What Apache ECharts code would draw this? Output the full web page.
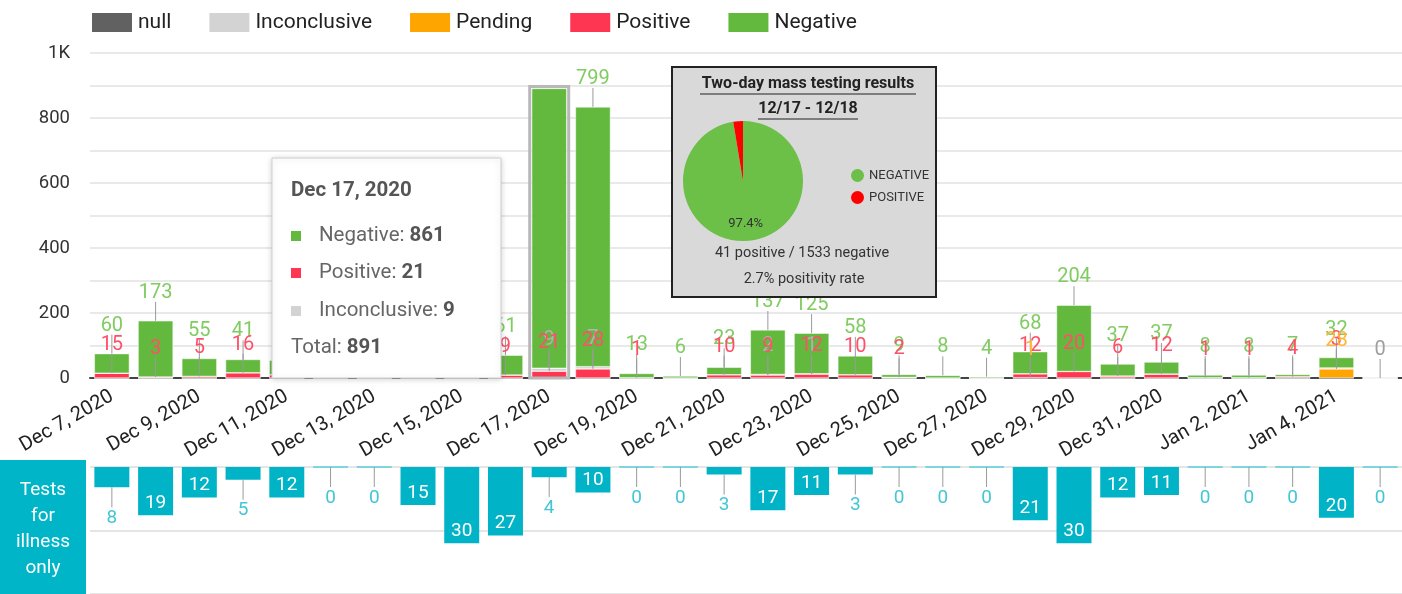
<!DOCTYPE html>
<html>
<head>
<meta charset="utf-8">
<script src="https://cdn.jsdelivr.net/npm/echarts@6/dist/echarts.min.js"></script>
<style>
  html, body { margin: 0; padding: 0; background: #fff; }
  #main { width: 1402px; height: 594px; }
</style>
</head>
<body>
<div id="main"></div>
<script>
// days on the x axis
const days = [
  'Dec 7, 2020', 'Dec 8, 2020', 'Dec 9, 2020', 'Dec 10, 2020', 'Dec 11, 2020',
  'Dec 12, 2020', 'Dec 13, 2020', 'Dec 14, 2020', 'Dec 15, 2020', 'Dec 16, 2020',
  'Dec 17, 2020', 'Dec 18, 2020', 'Dec 19, 2020', 'Dec 20, 2020', 'Dec 21, 2020',
  'Dec 22, 2020', 'Dec 23, 2020', 'Dec 24, 2020', 'Dec 25, 2020', 'Dec 26, 2020',
  'Dec 27, 2020', 'Dec 28, 2020', 'Dec 29, 2020', 'Dec 30, 2020', 'Dec 31, 2020',
  'Jan 1, 2021', 'Jan 2, 2021', 'Jan 3, 2021', 'Jan 4, 2021', 'Jan 5, 2021'
]
// stacked results (Dec 11 - Dec 15 are under the tooltip, estimated)
const negative = [60, 173, 55, 41, 45, 4, 2, 38, 52, 61, 861, 799, 13, 6, 23, 137, 125, 58, 9, 8, 4, 68, 204, 37, 37, 8, 8, 7, 32, 0]
const positive = [15, 3, 5, 16, 10, 2, 1, 8, 12, 9, 21, 28, 1, 0, 10, 9, 12, 10, 2, 0, 0, 12, 20, 6, 12, 1, 1, 4, 3, 0]
const inconclusive = [0, 0, 0, 0, 0, 0, 0, 0, 0, 0, 9, 7, 0, 0, 0, 2, 1, 0, 0, 0, 0, 0, 0, 0, 0, 0, 0, 0, 0, 0]
const pending = [0, 0, 0, 0, 0, 0, 0, 0, 0, 0, 0, 0, 0, 0, 0, 0, 0, 0, 0, 0, 0, 1, 0, 0, 0, 0, 0, 0, 28, 0]
const nullVals = [0, 0, 0, 0, 0, 0, 0, 0, 0, 0, 0, 0, 0, 0, 0, 0, 0, 0, 0, 0, 0, 0, 0, 0, 0, 0, 0, 0, 0, 0]
// tests for illness only
const illness = [8, 19, 12, 5, 12, 0, 0, 15, 30, 27, 4, 10, 0, 0, 3, 17, 11, 3, 0, 0, 0, 21, 30, 12, 11, 0, 0, 0, 20, 0]
// inset pie
const pieNames = ['NEGATIVE', 'POSITIVE']
const pieValues = [1533, 41]

const hoverIdx = 10 // Dec 17 is the hovered bar
const font = 'Roboto, "Noto Sans", sans-serif'

const colors = {
  null: '#616161',
  inconclusive: '#d3d3d3',
  pending: '#ffa500',
  positive: '#ff3652',
  negative: '#62b93e',
  illness: '#00b3c6'
}

// annotations above each stacked segment, with the little stems
function topAnnot (params, api) {
  const i = params.dataIndex
  const x = api.coord([i, 0])[0]
  const segs = [
    { v: pending[i], c: '#ffb433' },
    { v: positive[i], c: '#ff5069' },
    { v: inconclusive[i], c: '#b3b3b3' },
    { v: negative[i], c: '#80cc62' }
  ]
  let cum = 0
  segs.forEach(s => {
    cum += s.v
    s.y = api.coord([i, cum])[1]
  })
  const kids = []
  if (i === hoverIdx) {
    const w = api.size([1, 0])[0] * 0.8
    const base = api.coord([i, 0])[1]
    kids.push({
      type: 'rect',
      shape: { x: x - w / 2 - 2, y: segs[3].y - 2, width: w + 4, height: base - segs[3].y + 2 },
      style: { fill: null, stroke: '#b8b8b8', lineWidth: 3 }
    })
  }
  const show = [
    pending[i] > 0,
    positive[i] > 0,
    inconclusive[i] > 0,
    i !== hoverIdx
  ]
  segs.forEach((s, k) => {
    if (!show[k]) return
    kids.push({
      type: 'line',
      shape: { x1: x, y1: s.y, x2: x, y2: s.y - 19 },
      style: { stroke: '#9a9a9a', lineWidth: 1 }
    })
  })
  const order = [3, 2, 1, 0]
  order.forEach(k => {
    if (!show[k]) return
    const s = segs[k]
    let col = s.c
    if (k === 3 && s.v === 0) col = '#9e9e9e'
    kids.push({
      type: 'text',
      x: x,
      y: s.y - 28,
      style: {
        text: String(s.v),
        fill: col,
        fontSize: 20,
        fontFamily: font,
        align: 'center',
        verticalAlign: 'middle'
      }
    })
  })
  return { type: 'group', children: kids }
}

// labels for the downward cyan bars
function bottomAnnot (params, api) {
  const i = params.dataIndex
  const v = illness[i]
  const p0 = api.coord([i, 0])
  const p1 = api.coord([i, v])
  const w = api.size([1, 0])[0] * 0.8
  const kids = []
  if (v === 0) {
    kids.push({
      type: 'rect',
      shape: { x: p0[0] - w / 2, y: p0[1] - 1, width: w, height: 2 },
      style: { fill: '#7fd5df' }
    })
  }
  if (v >= 10) {
    kids.push({
      type: 'text',
      x: p0[0],
      y: p1[1] - 12,
      style: { text: String(v), fill: '#fff', fontSize: 19, fontFamily: font, align: 'center', verticalAlign: 'middle' }
    })
  } else {
    kids.push({
      type: 'line',
      shape: { x1: p0[0], y1: p1[1], x2: p0[0], y2: p1[1] + 20 },
      style: { stroke: '#9a9a9a', lineWidth: 1 }
    })
    kids.push({
      type: 'text',
      x: p0[0],
      y: p1[1] + 31,
      style: { text: String(v), fill: '#45c6d6', fontSize: 19, fontFamily: font, align: 'center', verticalAlign: 'middle' }
    })
  }
  return { type: 'group', children: kids }
}

const chart = echarts.init(document.getElementById('main'))

function stackBar (name, data, color) {
  return {
    name: name,
    type: 'bar',
    stack: 'res',
    data: data,
    barWidth: '80%',
    xAxisIndex: 0,
    yAxisIndex: 0,
    itemStyle: { color: color, borderColor: '#fff', borderWidth: 0.5 },
    emphasis: { disabled: true }
  }
}

// put a graphic element on its own layer
function layer (el, zl, z) {
  el.zlevel = zl
  el.z = z
  return el
}

// tooltip box drawn as plain graphics (Dec 17)
const tipItems = [
  { label: 'Negative: ', value: negative[hoverIdx], color: colors.negative, y: 236 },
  { label: 'Positive: ', value: positive[hoverIdx], color: colors.positive, y: 273 },
  { label: 'Inconclusive: ', value: inconclusive[hoverIdx], color: colors.inconclusive, y: 311 }
]
const total = negative[hoverIdx] + positive[hoverIdx] + inconclusive[hoverIdx]
const richTip = {
  a: { fill: '#666', fontSize: 20.5, fontFamily: font },
  b: { fill: '#555', fontSize: 20.5, fontWeight: 'bold', fontFamily: font }
}
const tipChildren = [
  {
    type: 'rect',
    shape: { x: 272, y: 158, width: 229, height: 220 },
    style: { fill: '#fff', stroke: '#cfcfcf', lineWidth: 1, shadowBlur: 6, shadowColor: 'rgba(0,0,0,0.18)', shadowOffsetY: 1 }
  },
  {
    type: 'text',
    x: 291, y: 191,
    style: { text: 'Dec 17, 2020', fill: '#555', fontSize: 20.5, fontWeight: 'bold', fontFamily: font, verticalAlign: 'middle' }
  },
  {
    type: 'text',
    x: 291, y: 348,
    style: { text: '{a|Total: }{b|' + total + '}', verticalAlign: 'middle', rich: richTip }
  }
]
tipItems.forEach(t => {
  tipChildren.push({
    type: 'rect',
    shape: { x: 291, y: t.y - 5, width: 10, height: 10 },
    style: { fill: t.color }
  })
  tipChildren.push({
    type: 'text',
    x: 319, y: t.y,
    style: { text: '{a|' + t.label + '}{b|' + t.value + '}', verticalAlign: 'middle', rich: richTip }
  })
})

const insetChildren = [
  {
    type: 'rect',
    shape: { x: 672, y: 67, width: 264, height: 230 },
    style: { fill: '#d9d9d9', stroke: '#222', lineWidth: 2 }
  },
  {
    type: 'text',
    x: 808, y: 84,
    style: { text: 'Two-day mass testing results', fill: '#222', fontSize: 16, fontWeight: 'bold', fontFamily: font, align: 'center', verticalAlign: 'middle' }
  },
  { type: 'line', shape: { x1: 700, y1: 94, x2: 916, y2: 94 }, style: { stroke: '#222', lineWidth: 1 } },
  {
    type: 'text',
    x: 808, y: 109,
    style: { text: '12/17 - 12/18', fill: '#222', fontSize: 16, fontWeight: 'bold', fontFamily: font, align: 'center', verticalAlign: 'middle' }
  },
  { type: 'line', shape: { x1: 758, y1: 119, x2: 858, y2: 119 }, style: { stroke: '#222', lineWidth: 1 } },
  {
    type: 'text',
    x: 802, y: 253,
    style: { text: '41 positive / 1533 negative', fill: '#333', fontSize: 14.5, fontFamily: font, align: 'center', verticalAlign: 'middle' }
  },
  {
    type: 'text',
    x: 804, y: 279,
    style: { text: '2.7% positivity rate', fill: '#333', fontSize: 14.5, fontFamily: font, align: 'center', verticalAlign: 'middle' }
  }
]

const sideChildren = [
  {
    type: 'rect',
    shape: { x: 0, y: 460, width: 86, height: 134 },
    style: { fill: '#00b5c8' }
  },
  {
    type: 'text',
    x: 43, y: 529,
    style: {
      text: 'Tests\nfor\nillness\nonly',
      fill: '#fff',
      fontSize: 19,
      lineHeight: 26,
      fontFamily: font,
      align: 'center',
      verticalAlign: 'middle'
    }
  }
]

const option = {
  animation: false,
  textStyle: { fontFamily: font },
  legend: [
    {
      data: ['null', 'Inconclusive', 'Pending', 'Positive', 'Negative'],
      left: 85,
      top: 6,
      icon: 'rect',
      itemWidth: 42,
      itemHeight: 21,
      itemGap: 36,
      textStyle: { fontSize: 21, color: '#222' }
    },
    {
      data: pieNames,
      orient: 'vertical',
      left: 846,
      top: 164,
      icon: 'circle',
      itemWidth: 13,
      itemHeight: 13,
      itemGap: 9,
      textStyle: { fontSize: 13, color: '#333' },
      zlevel: 1,
      z: 20
    }
  ],
  grid: [
    { left: 90, right: -2, top: 53, bottom: 216 },
    { left: 90, right: -2, top: 467, bottom: 0 }
  ],
  xAxis: [
    {
      type: 'category',
      gridIndex: 0,
      data: days,
      axisTick: { show: false },
      axisLine: { lineStyle: { color: '#444', width: 2 } },
      axisLabel: { interval: 1, rotate: 30, fontSize: 20, color: '#222', margin: 17 }
    },
    {
      type: 'category',
      gridIndex: 1,
      data: days,
      axisTick: { show: false },
      axisLine: { show: false },
      axisLabel: { show: false }
    }
  ],
  yAxis: [
    {
      type: 'value',
      gridIndex: 0,
      min: 0,
      max: 1000,
      interval: 100,
      axisLabel: {
        fontSize: 18.5,
        color: '#333',
        margin: 20,
        formatter: v => (v % 200 !== 0 ? '' : (v === 1000 ? '1K' : String(v)))
      },
      splitLine: { lineStyle: { color: '#e2e2e2', width: 1.5 } }
    },
    {
      type: 'value',
      gridIndex: 1,
      inverse: true,
      min: 0,
      max: 50,
      interval: 25,
      axisLabel: { show: false },
      splitLine: { lineStyle: { color: '#dcdcdc', width: 1.5 } }
    }
  ],
  series: [
    stackBar('null', nullVals, colors.null),
    stackBar('Pending', pending, colors.pending),
    stackBar('Positive', positive, colors.positive),
    stackBar('Inconclusive', inconclusive, colors.inconclusive),
    stackBar('Negative', negative, colors.negative),
    {
      name: 'topLabels',
      type: 'custom',
      xAxisIndex: 0,
      yAxisIndex: 0,
      data: days.map((d, i) => [i, 0]),
      renderItem: topAnnot,
      z: 5,
      silent: true
    },
    {
      name: 'Tests for illness only',
      type: 'bar',
      xAxisIndex: 1,
      yAxisIndex: 1,
      data: illness,
      barWidth: '80%',
      itemStyle: { color: colors.illness },
      emphasis: { disabled: true }
    },
    {
      name: 'illnessLabels',
      type: 'custom',
      xAxisIndex: 1,
      yAxisIndex: 1,
      data: days.map((d, i) => [i, 0]),
      renderItem: bottomAnnot,
      z: 5,
      silent: true
    },
    {
      name: 'mass',
      type: 'pie',
      center: [743, 181],
      radius: 60,
      startAngle: 90,
      clockwise: true,
      zlevel: 1,
      z: 20,
      data: pieNames.map((n, i) => ({
        name: n,
        value: pieValues[i],
        itemStyle: { color: i === 0 ? '#6cbf47' : '#ff0000' },
        label: { show: i === 0 }
      })),
      label: {
        position: 'inside',
        formatter: '{d}%',
        fontSize: 13,
        color: '#333'
      },
      labelLayout: { dy: 10 },
      emphasis: { disabled: true }
    }
  ],
  graphic: []
    .concat(insetChildren.map(el => layer(el, 1, 1)))
    .concat(tipChildren.map(el => layer(el, 2, 1)))
    .concat(sideChildren.map(el => layer(el, 2, 1)))
}

chart.setOption(option)
</script>
</body>
</html>
